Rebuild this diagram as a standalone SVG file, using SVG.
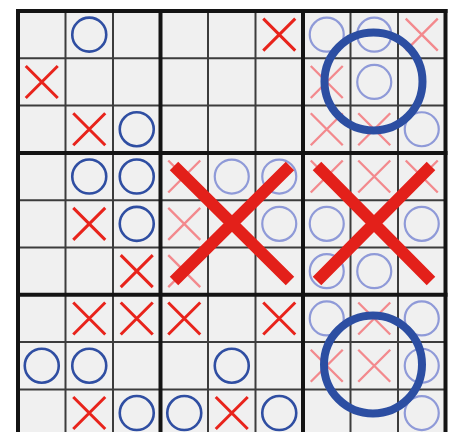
<svg xmlns="http://www.w3.org/2000/svg" xmlns:xlink="http://www.w3.org/1999/xlink" width="450" height="432" viewBox="0 0 450 432">
<style>
.thin{stroke:#3c3c3c;stroke-width:2}
.thick{stroke:#141414;stroke-width:4}
.xd{stroke:#e8231b;stroke-width:3;fill:none}
.xl{stroke:#f3898d;stroke-width:2.3;fill:none}
.od{stroke:#2f4ea2;stroke-width:2.6;fill:none}
.ol{stroke:#8f9ad8;stroke-width:2.2;fill:none}
.bigx{stroke:#e3201a;stroke-width:12;fill:none}
.bigo{stroke:#2c4ea2;stroke-width:8;fill:none}
</style>
<defs>
<path id="x" d="M-16 -16L16 16M16 -16L-16 16"/>
<circle id="o" r="17"/>
</defs>
<rect width="450" height="432" fill="#ffffff"/>
<rect x="18" y="11" width="427.5" height="426" fill="#f0f0f0"/>
<g id="grid">
<g class="thin">
<line x1="65.5" y1="11" x2="65.5" y2="437"/>
<line x1="113" y1="11" x2="113" y2="437"/>
<line x1="208" y1="11" x2="208" y2="437"/>
<line x1="255.5" y1="11" x2="255.5" y2="437"/>
<line x1="350.5" y1="11" x2="350.5" y2="437"/>
<line x1="398" y1="11" x2="398" y2="437"/>
<line x1="18" y1="58.3" x2="445.5" y2="58.3"/>
<line x1="18" y1="105.6" x2="445.5" y2="105.6"/>
<line x1="18" y1="200.2" x2="445.5" y2="200.2"/>
<line x1="18" y1="247.5" x2="445.5" y2="247.5"/>
<line x1="18" y1="342.1" x2="445.5" y2="342.1"/>
<line x1="18" y1="389.4" x2="445.5" y2="389.4"/>
</g>
<g class="thick">
<line x1="18" y1="9" x2="18" y2="437"/>
<line x1="160.5" y1="9" x2="160.5" y2="437"/>
<line x1="303" y1="9" x2="303" y2="437"/>
<line x1="445.5" y1="9" x2="445.5" y2="437"/>
<line x1="16" y1="11" x2="447.5" y2="11"/>
<line x1="16" y1="152.9" x2="447.5" y2="152.9"/>
<line x1="16" y1="294.8" x2="447.5" y2="294.8"/>
</g>
</g>
<g id="marks">
<use href="#o" class="od" x="89.25" y="34.65"/>
<use href="#x" class="xd" x="279.25" y="34.65"/>
<use href="#o" class="ol" x="326.75" y="34.65"/>
<use href="#o" class="ol" x="374.25" y="34.65"/>
<use href="#x" class="xl" x="421.75" y="34.65"/>
<use href="#x" class="xd" x="41.75" y="81.95"/>
<use href="#x" class="xl" x="326.75" y="81.95"/>
<use href="#o" class="ol" x="374.25" y="81.95"/>
<use href="#x" class="xd" x="89.25" y="129.25"/>
<use href="#o" class="od" x="136.75" y="129.25"/>
<use href="#x" class="xl" x="326.75" y="129.25"/>
<use href="#x" class="xl" x="374.25" y="129.25"/>
<use href="#o" class="ol" x="421.75" y="129.25"/>
<use href="#o" class="od" x="89.25" y="176.55"/>
<use href="#o" class="od" x="136.75" y="176.55"/>
<use href="#x" class="xl" x="184.25" y="176.55"/>
<use href="#o" class="ol" x="231.75" y="176.55"/>
<use href="#o" class="ol" x="279.25" y="176.55"/>
<use href="#x" class="xl" x="326.75" y="176.55"/>
<use href="#x" class="xl" x="374.25" y="176.55"/>
<use href="#x" class="xl" x="421.75" y="176.55"/>
<use href="#x" class="xd" x="89.25" y="223.85"/>
<use href="#o" class="od" x="136.75" y="223.85"/>
<use href="#x" class="xl" x="184.25" y="223.85"/>
<use href="#o" class="ol" x="279.25" y="223.85"/>
<use href="#o" class="ol" x="326.75" y="223.85"/>
<use href="#o" class="ol" x="421.75" y="223.85"/>
<use href="#x" class="xd" x="136.75" y="271.15"/>
<use href="#x" class="xl" x="184.25" y="271.15"/>
<use href="#o" class="ol" x="326.75" y="271.15"/>
<use href="#o" class="ol" x="374.25" y="271.15"/>
<use href="#x" class="xd" x="89.25" y="318.45"/>
<use href="#x" class="xd" x="136.75" y="318.45"/>
<use href="#x" class="xd" x="184.25" y="318.45"/>
<use href="#x" class="xd" x="279.25" y="318.45"/>
<use href="#o" class="ol" x="326.75" y="318.45"/>
<use href="#x" class="xl" x="374.25" y="318.45"/>
<use href="#o" class="ol" x="421.75" y="318.45"/>
<use href="#o" class="od" x="41.75" y="365.75"/>
<use href="#o" class="od" x="89.25" y="365.75"/>
<use href="#o" class="od" x="231.75" y="365.75"/>
<use href="#x" class="xl" x="326.75" y="365.75"/>
<use href="#x" class="xl" x="374.25" y="365.75"/>
<use href="#o" class="ol" x="421.75" y="365.75"/>
<use href="#x" class="xd" x="89.25" y="413.05"/>
<use href="#o" class="od" x="136.75" y="413.05"/>
<use href="#o" class="od" x="184.25" y="413.05"/>
<use href="#x" class="xd" x="231.75" y="413.05"/>
<use href="#o" class="od" x="279.25" y="413.05"/>
<use href="#o" class="ol" x="421.75" y="413.05"/>
</g>
<g id="big">
<circle class="bigo" cx="373.5" cy="81.5" r="49"/>
<path class="bigx" d="M174 166L290 281M290 166L174 281"/>
<path class="bigx" d="M317 166L431 281M431 166L317 281"/>
<circle class="bigo" cx="373" cy="364.5" r="49"/>
</g>
</svg>
